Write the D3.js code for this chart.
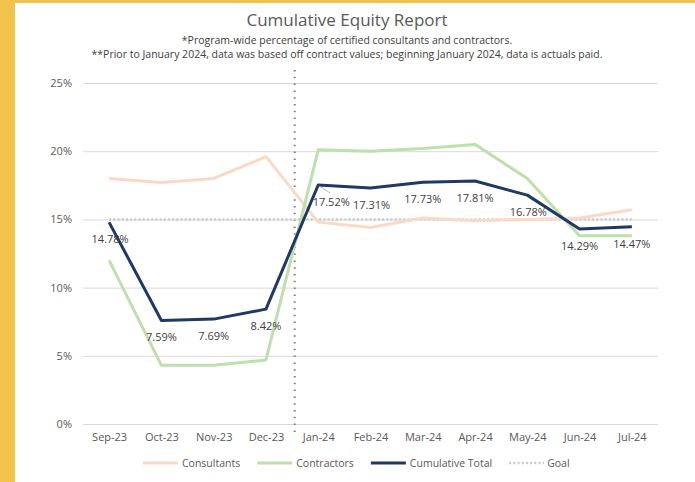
<!DOCTYPE html>
<html>
<head>
<meta charset="utf-8">
<script src="https://cdn.jsdelivr.net/npm/d3@7"></script>
<style>
  body { margin: 0; background: #fff; }
  svg text { font-family: "Open Sans", "Liberation Sans", sans-serif; }
</style>
</head>
<body>
<div id="chart"></div>
<script>
// data
const months = ['Sep-23', 'Oct-23', 'Nov-23', 'Dec-23', 'Jan-24', 'Feb-24', 'Mar-24', 'Apr-24', 'May-24', 'Jun-24', 'Jul-24'];
const consultants = [18.0, 17.7, 18.0, 19.6, 14.8, 14.4, 15.1, 14.9, 15.0, 15.1, 15.7];
const contractors = [12.0, 4.3, 4.3, 4.7, 20.1, 20.0, 20.2, 20.5, 18.0, 13.8, 13.8];
const cumulativeTotal = [14.78, 7.59, 7.69, 8.42, 17.52, 17.31, 17.73, 17.81, 16.78, 14.29, 14.47];
const goal = [15, 15, 15, 15, 15, 15, 15, 15, 15, 15, 15];
const yTicks = [0, 5, 10, 15, 20, 25];

const width = 695;
const height = 482;

const svg = d3.select('#chart')
    .append('svg')
    .attr('width', width)
    .attr('height', height);

// gold frame
svg.append('rect').attr('x', 0).attr('y', 0).attr('width', width).attr('height', height).attr('fill', '#f2c24f');
svg.append('rect').attr('x', 15).attr('y', 3).attr('width', width - 15).attr('height', height - 3).attr('fill', '#fff');

// titles
svg.append('text').attr('x', 347).attr('y', 26).attr('text-anchor', 'middle')
    .attr('font-size', 17).attr('fill', '#595959').text('Cumulative Equity Report');
svg.append('text').attr('x', 347).attr('y', 44).attr('text-anchor', 'middle')
    .attr('font-size', 10.5).attr('fill', '#404040')
    .text('*Program-wide percentage of certified consultants and contractors.');
svg.append('text').attr('x', 347).attr('y', 58).attr('text-anchor', 'middle')
    .attr('font-size', 10.5).attr('fill', '#404040')
    .text('**Prior to January 2024, data was based off contract values; beginning January 2024, data is actuals paid.');

const x = d3.scalePoint()
    .domain(months)
    .range([83, 658])
    .padding(0.5);

const y = d3.scaleLinear()
    .domain([0, 25])
    .range([424, 83]);

// gridlines
const yAxis = svg.append('g')
    .attr('transform', 'translate(83,0)')
    .call(d3.axisLeft(y).tickValues(yTicks).tickSize(-575).tickFormat(d => d + '%'));
yAxis.select('.domain').remove();
yAxis.selectAll('.tick line').attr('stroke', '#d9d9d9').attr('stroke-width', 1);
yAxis.selectAll('.tick text').attr('x', -11).attr('font-size', 11).attr('fill', '#595959');

const xAxis = svg.append('g')
    .attr('transform', 'translate(0,424)')
    .call(d3.axisBottom(x).tickSize(0));
xAxis.select('.domain').remove();
xAxis.selectAll('.tick text').attr('dy', '1.25em').attr('font-size', 11).attr('fill', '#595959');

// divider between contract values and actuals paid
const divX = x('Dec-23') + x.step() * 0.55;
svg.append('line')
    .attr('x1', divX).attr('x2', divX)
    .attr('y1', 70).attr('y2', 432)
    .attr('stroke', '#7f7f7f').attr('stroke-width', 2)
    .attr('stroke-dasharray', '1.5,5.3');

const line = d3.line()
    .x((d, i) => x(months[i]))
    .y(d => y(d));

const series = [
    { name: 'Consultants', values: consultants, color: '#f9dac6', width: 3, dash: null },
    { name: 'Contractors', values: contractors, color: '#bfdfac', width: 3, dash: null },
    { name: 'Cumulative Total', values: cumulativeTotal, color: '#1f3864', width: 3, dash: null },
    { name: 'Goal', values: goal, color: '#c9c9c9', width: 2.5, dash: '2,2.2' }
];

// draw goal first, then others on top
const drawOrder = [series[3], series[0], series[1], series[2]];
drawOrder.forEach(s => {
    svg.append('path')
        .datum(s.values)
        .attr('d', line)
        .attr('fill', 'none')
        .attr('stroke', s.color)
        .attr('stroke-width', s.width)
        .attr('stroke-dasharray', s.dash)
        .attr('stroke-linejoin', 'round');
});

// data labels for cumulative total
const labelDx = [1, 0, 0, 0, 13, 1, 0, 0, 1, 0, 0];
svg.append('line')
    .attr('x1', x('Jan-24') + 1).attr('y1', y(17.52) + 1)
    .attr('x2', x('Jan-24') + 12).attr('y2', y(17.52) + 8)
    .attr('stroke', '#a6a6a6').attr('stroke-width', 0.8);

svg.append('g')
    .selectAll('text')
    .data(cumulativeTotal)
    .enter().append('text')
    .attr('x', (d, i) => x(months[i]) + labelDx[i])
    .attr('y', d => y(d) + 21)
    .attr('text-anchor', 'middle')
    .attr('font-size', 11)
    .attr('fill', '#404040')
    .text(d => d.toFixed(2) + '%');

// legend
let lx = 143;
const legend = svg.append('g').attr('transform', 'translate(0,463)');
series.forEach(s => {
    legend.append('line')
        .attr('x1', lx).attr('x2', lx + 35)
        .attr('y1', 0).attr('y2', 0)
        .attr('stroke', s.color)
        .attr('stroke-width', s.width)
        .attr('stroke-dasharray', s.dash);
    const t = legend.append('text')
        .attr('x', lx + (s.dash ? 38 : 39)).attr('y', 4)
        .attr('font-size', 10.5).attr('fill', '#595959')
        .text(s.name);
    lx += 39 + t.node().getComputedTextLength() + 17;
});
</script>
</body>
</html>
